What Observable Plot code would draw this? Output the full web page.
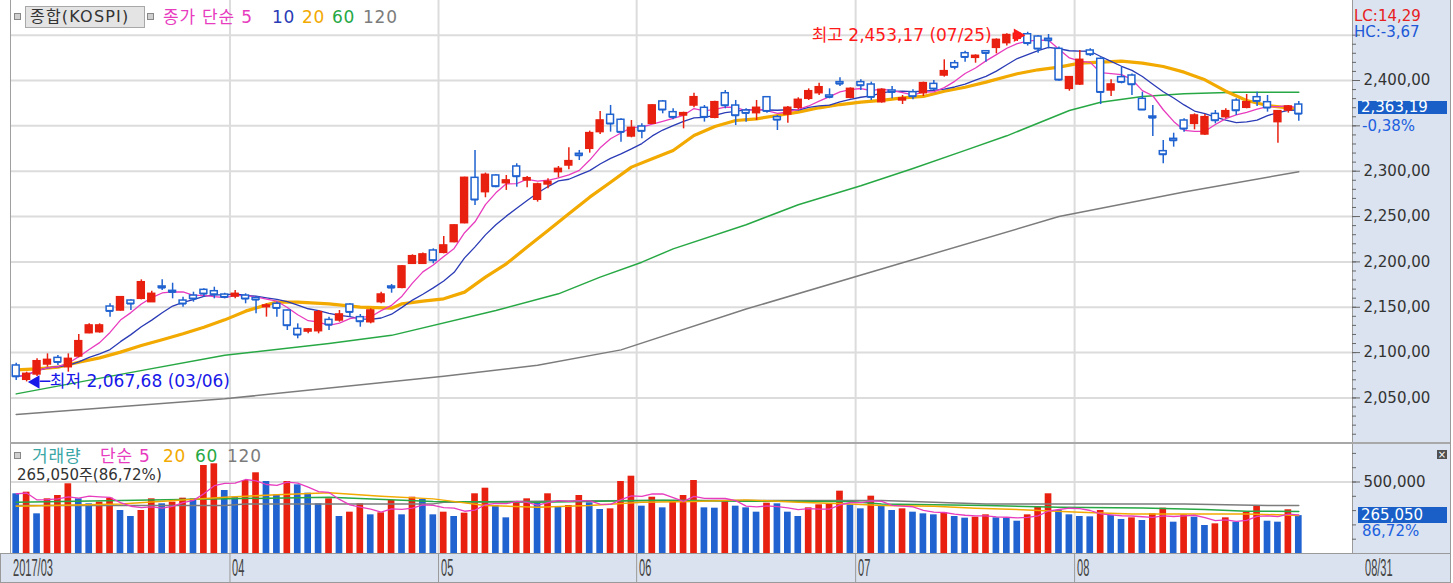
<!DOCTYPE html>
<html><head><meta charset="utf-8">
<script src="https://cdn.jsdelivr.net/npm/d3@7"></script>
<script src="https://cdn.jsdelivr.net/npm/@observablehq/plot@0.6"></script>
<style>
body{margin:0;background:#fff;}
#wrap{position:relative;width:1453px;height:583px;overflow:hidden;font-family:"DejaVu Sans","Noto Sans CJK KR",sans-serif;background:#fff;}
.abs{position:absolute;white-space:nowrap;}
.svgbox{position:absolute;left:0;}
.cond{position:absolute;white-space:nowrap;font-family:"Liberation Sans",sans-serif;font-size:23px;line-height:26px;color:#444;transform:scaleX(0.48);transform-origin:0 0;}
</style></head><body><div id="wrap"></div>
<script>
// ---- data ----
const monthLabels = ["2017/03","04","05","06","07","08"];
const monthStart  = [0,21,41,60,81,102];
const opens  = [2085.8,2070.0,2075.9,2086.9,2094.2,2083.9,2095.7,2121.4,2122.5,2150.8,2146.4,2157.4,2159.3,2155.6,2172.9,2168.1,2157.4,2162.9,2169.2,2167.7,2164.0,2161.8,2162.9,2160.4,2150.1,2153.8,2146.4,2126.2,2123.2,2123.6,2136.1,2135.4,2153.0,2139.1,2133.5,2155.6,2172.9,2171.4,2197.9,2197.9,2212.6,2210.0,2221.8,2242.7,2292.7,2276.9,2295.3,2286.8,2305.2,2289.8,2268.5,2285.4,2299.0,2306.3,2319.2,2324.7,2343.1,2362.2,2356.7,2338.3,2349.3,2352.3,2376.9,2365.1,2361.4,2372.4,2369.9,2358.9,2386.0,2372.4,2366.9,2364.0,2381.6,2359.6,2362.5,2369.9,2379.8,2386.0,2383.5,2398.2,2380.9,2398.2,2395.6,2376.1,2389.0,2378.0,2387.1,2386.0,2396.3,2405.5,2419.1,2430.1,2425.0,2432.3,2436.0,2441.2,2446.0,2451.0,2448.5,2446.0,2434.9,2390.8,2395.6,2433.1,2423.9,2389.0,2403.7,2405.5,2379.8,2360.3,2322.1,2335.7,2355.9,2352.2,2340.5,2363.2,2359.6,2377.9,2369.9,2381.6,2376.1,2354.1,2366.9,2373.5];
const highs  = [2088.3,2078.4,2093.1,2098.6,2096.8,2098.6,2119.9,2131.7,2131.7,2153.8,2161.8,2158.2,2180.2,2167.7,2180.2,2176.5,2161.1,2166.6,2170.3,2172.1,2165.5,2168.5,2164.8,2161.8,2153.8,2155.6,2147.1,2131.7,2126.2,2146.4,2139.1,2146.4,2153.8,2142.0,2148.2,2166.6,2175.1,2196.1,2207.8,2209.7,2214.4,2228.0,2240.9,2293.4,2322.9,2297.9,2296.0,2295.3,2308.2,2294.2,2286.8,2291.6,2305.2,2325.8,2322.9,2344.2,2365.8,2372.5,2357.8,2355.9,2352.3,2373.2,2378.0,2368.8,2365.1,2386.0,2372.4,2377.2,2389.0,2378.0,2368.8,2378.0,2382.4,2361.4,2371.3,2380.9,2390.8,2397.1,2390.8,2402.9,2391.9,2400.7,2398.2,2390.8,2393.4,2383.5,2389.7,2398.2,2400.0,2422.8,2422.0,2432.3,2428.3,2433.1,2445.9,2451.5,2452.5,2453.17,2449.6,2450.7,2436.8,2404.4,2433.1,2434.9,2425.0,2400.7,2414.7,2407.3,2387.1,2372.4,2333.8,2341.9,2357.7,2363.2,2362.5,2366.9,2368.8,2379.8,2384.6,2387.1,2383.5,2366.9,2372.4,2376.8];
const lows   = [2069.2,2067.68,2073.6,2083.9,2085.8,2078.4,2094.2,2120.7,2121.4,2139.1,2145.7,2146.4,2158.2,2155.6,2168.5,2159.3,2150.1,2155.6,2161.1,2159.3,2159.3,2159.3,2153.8,2142.7,2139.1,2139.1,2124.4,2115.2,2120.7,2120.7,2124.4,2133.5,2139.1,2128.0,2131.7,2153.8,2165.5,2170.3,2197.2,2197.2,2197.9,2208.9,2221.0,2242.0,2262.2,2270.7,2281.7,2278.8,2282.4,2281.7,2265.9,2280.6,2292.7,2301.5,2311.8,2319.9,2340.5,2343.1,2332.0,2336.8,2335.7,2352.3,2363.3,2356.7,2346.7,2369.9,2354.1,2357.7,2368.8,2350.4,2354.1,2355.9,2364.0,2344.9,2353.0,2367.7,2378.0,2383.5,2379.8,2393.4,2379.8,2389.0,2378.0,2375.0,2379.8,2373.5,2378.7,2382.4,2389.0,2403.7,2411.8,2420.2,2419.1,2420.2,2429.4,2438.0,2443.0,2438.0,2430.1,2434.9,2399.3,2388.2,2394.5,2426.5,2373.5,2382.4,2396.3,2383.5,2366.9,2338.3,2308.1,2326.5,2343.0,2345.6,2339.4,2352.2,2357.7,2361.4,2368.8,2371.3,2365.1,2330.9,2364.0,2355.2];
const closes = [2073.6,2076.6,2090.5,2092.0,2089.4,2093.1,2112.6,2129.9,2129.9,2145.7,2161.1,2153.8,2177.6,2164.8,2171.4,2166.6,2153.8,2159.3,2164.8,2164.0,2161.1,2164.8,2159.3,2158.2,2151.9,2149.0,2129.9,2119.6,2125.5,2144.6,2130.6,2142.0,2144.6,2134.3,2146.4,2164.0,2171.4,2195.0,2206.3,2208.2,2201.6,2218.1,2240.2,2292.7,2268.5,2296.0,2283.2,2289.8,2294.2,2292.3,2285.4,2288.3,2302.6,2311.1,2317.3,2342.0,2355.9,2352.3,2343.1,2347.8,2344.2,2372.5,2367.7,2359.6,2364.0,2381.6,2359.6,2376.1,2372.4,2361.4,2364.0,2369.9,2366.2,2356.6,2369.9,2378.7,2388.2,2392.6,2381.6,2396.3,2390.8,2394.5,2381.6,2389.7,2387.1,2380.2,2382.4,2397.1,2390.8,2410.3,2414.7,2425.7,2427.2,2430.1,2444.8,2450.1,2451.5,2441.0,2434.9,2444.1,2400.7,2403.7,2422.8,2428.7,2387.1,2395.6,2398.2,2395.6,2367.7,2358.8,2318.4,2333.8,2346.7,2361.4,2359.6,2355.9,2366.2,2366.9,2376.1,2377.2,2369.9,2366.2,2371.3,2363.19];
const volumes = [417500,428800,277400,382300,405600,487400,382300,347400,359000,386900,300700,258700,300700,382300,347400,359000,386900,382300,615400,627100,440600,393700,510500,564300,503500,410500,503500,480400,421700,347400,382300,258700,289000,347400,270400,284400,370600,270400,393700,377600,270400,289000,258700,282000,417500,456700,335700,249400,363600,382300,363600,417500,324000,335700,405600,354300,307700,312300,503500,540600,331000,393700,319300,370600,405600,510500,319300,316900,370600,331000,319300,289000,352000,347400,289000,258700,319300,340400,347400,435900,340400,312300,400900,331000,300700,312300,289000,277400,270400,284400,258700,247100,254000,270400,249400,247100,225900,270400,324000,417500,300700,270400,258700,256400,300700,265800,238100,249400,230600,277400,316900,219000,270400,254000,195800,207400,249400,219000,289000,335700,225900,219000,305640,265050];
// moving averages (index, value)
const ma20Idx = [0,2,4,6,8,10,12,14,16,18,20,22,24,25,27,30,33,36,37,39,41,43,45,47,49,51,53,55,57,59,61,63,65,67,69,71,73,75,77,79,81,83,85,87,89,91,93,95,96,98,100,102,104,106,108,110,112,114,116,118,120,122,123];
const ma20Val = [2081.0,2082.1,2083.9,2089.4,2094.2,2100.5,2107.8,2114.1,2120.7,2128.0,2136.1,2145.7,2152.6,2155.6,2155.6,2153.8,2150.1,2149.0,2153.8,2156.7,2159.3,2166.7,2183.2,2197.9,2216.3,2234.6,2253.0,2271.4,2287.9,2304.5,2313.7,2322.9,2339.4,2349.3,2355.9,2357.7,2361.4,2365.1,2369.9,2373.5,2376.1,2378.0,2380.9,2382.4,2388.2,2392.6,2398.2,2404.4,2407.4,2411.8,2414.7,2419.1,2420.2,2421.3,2419.1,2415.4,2409.2,2400.7,2388.2,2378.0,2372.4,2369.9,2367.7];
const ma60Idx = [0,10,20,30,36,46,52,56,60,63,70,75,81,86,91,95,101,104,108,112,117,123];
const ma60Val = [2054.5,2076.0,2097.0,2110.0,2119.0,2146.5,2164.8,2183.2,2199.7,2214.4,2241.0,2263.0,2284.0,2303.0,2323.0,2339.0,2367.0,2376.0,2382.4,2385.5,2387.1,2387.1];
const ma120Idx = [0,20,41,50,58,70,85,100,112,123];
const ma120Val = [2031.7,2049.0,2074.0,2086.0,2103.0,2148.0,2199.0,2250.0,2277.0,2299.5];
const vma20Idx = [0,10,20,25,30,35,40,45,50,55,60,65,70,75,80,83,88,92,97,102,107,113,118,123];
const vma20Val = [331000,347000,394000,410000,424000,401000,382000,336000,324000,336000,359000,364000,375000,359000,347000,336000,331000,317000,305000,289000,277000,277000,277000,266000];
const vma60Idx = [0,20,30,40,50,62,70,80,83,93,100,108,114,118,123];
const vma60Val = [359000,382000,394000,364000,359000,372000,366000,364000,347000,336000,324000,319000,308000,296000,294000];
const vma120Idx = [0,20,22,40,41,60,83,88,93,112,120,123];
const vma120Val = [336000,336000,347000,347000,359000,371000,371000,359000,347000,347000,336000,336000];
const priceLabelTicks = [2050,2100,2150,2200,2250,2300,2400];
const priceMajor = [2050,2100,2150,2200,2250,2300,2350,2400,2450];
const priceMinor = d3.range(2010,2441,10);
const volMinor = d3.range(0,700001,100000);
const lowMark = {i:1, v:2067.68, text:"─최저 2,067,68 (03/06)"};
const highMark = {i:97, v:2453.17, text:"최고 2,453,17 (07/25)"};

// ---- styling ----
const RED="#e8200f", BLUE="#1f62d0", PINK="#e83cbf", NAVY="#2a3bb5", ORANGE="#f2a900", GREEN="#27a844", GREY="#7c7c7c", GRID="#dcdcdc", TICK="#666";
const W=1453, MR=101, ML=10;
const xDomain=[0,123], xRange=[15.7,1298.3];
const xPix = d3.scaleLinear(xDomain, xRange);           // used only to turn pixel tick lengths into x units
const axX0 = xPix.invert(W-MR), axXmin = xPix.invert(W-MR+4), axXmaj = xPix.invert(W-MR+8);

const candles = closes.map((c,i)=>({i,o:opens[i],h:highs[i],l:lows[i],c,up:c>=opens[i]}));
const vols = volumes.map((v,i)=>({i,v,up: i>0 ? v>volumes[i-1] : false}));
const pairs = (ix,vals)=>ix.map((i,k)=>({i,v:vals[k]}));
const monthSep = monthStart.map(d=>d-0.5);

const wrap = document.getElementById("wrap");
function div(css, text){const d=document.createElement("div");d.className="abs";d.style.cssText=css;if(text!=null)d.textContent=text;wrap.appendChild(d);return d;}

// backgrounds
div("left:1352px;top:0;width:97px;height:553px;background:#dae3ef;border-left:1px solid #9a9a9a;border-right:1px solid #9a9a9a;");
div("left:0;top:553px;width:1449px;height:28px;background:#d9e2ee;border:1px solid #9a9a9a;");

// ---- price pane ----
const price = Plot.plot({
  width:W, height:443, marginLeft:ML, marginRight:MR, marginTop:0, marginBottom:0,
  style:{background:"transparent", fontFamily:"DejaVu Sans", fontSize:"15px", color:"#333"},
  x:{domain:xDomain, range:xRange, axis:null},
  y:{domain:[2050,2400], range:[397.45,80], axis:null},
  color:{type:"identity"},
  marks:[
    Plot.ruleY(priceMajor, {stroke:GRID, strokeWidth:2}),
    Plot.ruleX(monthSep.slice(1), {stroke:GRID, strokeWidth:2}),
    Plot.lineY(pairs(ma120Idx,ma120Val), {x:"i", y:"v", stroke:GREY, strokeWidth:1.5}),
    Plot.lineY(pairs(ma60Idx,ma60Val), {x:"i", y:"v", stroke:GREEN, strokeWidth:1.5}),
    Plot.lineY(pairs(ma20Idx,ma20Val), {x:"i", y:"v", stroke:ORANGE, strokeWidth:3.2}),
    Plot.lineY(candles, Plot.windowY({k:10, anchor:"end", reduce:"mean"}, {x:"i", y:"c", stroke:NAVY, strokeWidth:1.3})),
    Plot.lineY(candles, Plot.windowY({k:5, anchor:"end", reduce:"mean"}, {x:"i", y:"c", stroke:PINK, strokeWidth:1.3})),
    Plot.ruleX(candles, {x:"i", y1:"l", y2:"h", stroke:d=>d.up?RED:BLUE, strokeWidth:1.5}),
    Plot.rect(candles, {x1:d=>d.i-0.33, x2:d=>d.i+0.33, y1:"o", y2:"c", fill:d=>d.up?RED:"white", stroke:d=>d.up?RED:BLUE, strokeWidth:1.5}),
    Plot.ruleY(candles, {x1:d=>d.i-0.33, x2:d=>d.i+0.33, y:"c", stroke:d=>d.up?RED:BLUE, strokeWidth:1.5}),
    // right axis: tick marks and labels
    Plot.ruleY(priceMinor, {x1:axX0, x2:axXmin, stroke:TICK}),
    Plot.ruleY(priceMajor, {x1:axX0, x2:axXmaj, stroke:TICK}),
    Plot.axisY({anchor:"right", label:null, ticks:priceLabelTicks, tickSize:0, tickPadding:11, tickFormat:v=>d3.format(",")(v)+",00", fontSize:15, fontFamily:"DejaVu Sans"}),
    // annotations
    Plot.dot([lowMark], {x:"i", y:"v", symbol:"triangle", rotate:-90, r:5, fill:"#1818e8", stroke:null, dx:9}),
    Plot.text([lowMark], {x:"i", y:"v", text:"text", textAnchor:"start", dx:13, fill:"#1818e8", fontSize:17, fontFamily:"DejaVu Sans, Noto Sans CJK KR"}),
    Plot.dot([highMark], {x:"i", y:"v", symbol:"triangle", rotate:90, r:5, fill:"#ff1a1a", stroke:null, dx:-10, dy:3}),
    Plot.text([highMark], {x:"i", y:"v", text:"text", textAnchor:"end", dx:-36, dy:3, fill:"#ff1a1a", fontSize:17, fontFamily:"DejaVu Sans, Noto Sans CJK KR"})
  ]
});
price.classList.add("svgbox"); price.style.top="0px"; wrap.appendChild(price);

// ---- volume pane ----
const vol = Plot.plot({
  width:W, height:110, marginLeft:ML, marginRight:MR, marginTop:0, marginBottom:0,
  style:{background:"transparent", fontFamily:"DejaVu Sans", fontSize:"15px", color:"#333"},
  x:{domain:xDomain, range:xRange, axis:null},
  y:{domain:[0,500000], range:[110,38.5], axis:null},
  color:{type:"identity"},
  marks:[
    Plot.ruleY([500000], {stroke:GRID, strokeWidth:2}),
    Plot.ruleX(monthSep.slice(1), {stroke:GRID, strokeWidth:2}),
    Plot.rect(vols, {x1:d=>d.i-0.32, x2:d=>d.i+0.32, y1:0, y2:"v", fill:d=>d.up?RED:BLUE}),
    Plot.lineY(pairs(vma120Idx,vma120Val), {x:"i", y:"v", stroke:GREY, strokeWidth:1.5}),
    Plot.lineY(pairs(vma60Idx,vma60Val), {x:"i", y:"v", stroke:GREEN, strokeWidth:1.5}),
    Plot.lineY(pairs(vma20Idx,vma20Val), {x:"i", y:"v", stroke:ORANGE, strokeWidth:1.5}),
    Plot.lineY(vols, Plot.windowY({k:5, anchor:"end", reduce:"mean"}, {x:"i", y:"v", stroke:PINK, strokeWidth:1.3})),
    Plot.ruleY(volMinor, {x1:axX0, x2:axXmin, stroke:TICK}),
    Plot.ruleY([500000], {x1:axX0, x2:axXmaj, stroke:TICK}),
    Plot.axisY({anchor:"right", label:null, ticks:[500000], tickSize:0, tickPadding:11, tickFormat:d3.format(","), fontSize:15, fontFamily:"DejaVu Sans"})
  ]
});
vol.classList.add("svgbox"); vol.style.top="443px"; wrap.appendChild(vol);

// ---- time strip ----
const strip = Plot.plot({
  width:W, height:30, marginLeft:ML, marginRight:MR, marginTop:0, marginBottom:0,
  style:{background:"transparent"},
  x:{domain:xDomain, range:xRange, axis:null},
  marks:[ Plot.ruleX(monthSep.slice(1), {stroke:"#9a9a9a", strokeWidth:1}) ]
});
strip.classList.add("svgbox"); strip.style.top="553px"; wrap.appendChild(strip);
const xs = price.scale("x"), ys = price.scale("y"), vy = vol.scale("y");
monthLabels.forEach((t,k)=>{
  const d=document.createElement("div"); d.className="cond";
  d.style.left=(Math.max(xs.apply(monthSep[k]),10)+3)+"px"; d.style.top="555px"; d.textContent=t; wrap.appendChild(d);
});
{const d=document.createElement("div"); d.className="cond"; d.style.left="1365px"; d.style.top="555px"; d.textContent="08/31"; wrap.appendChild(d);}

// frame lines
div("left:10px;top:0;width:1px;height:553px;background:#a0a0a0;");
div("left:10px;top:442px;width:1440px;height:2px;background:#a8a8a8;");

// ---- legends ----
const lg = "font-size:17px;top:5px;line-height:24px;letter-spacing:0.8px;";
div("left:14px;top:13px;width:5px;height:5px;border:1px solid #888;background:#cfcfcf;");
div("left:25px;top:6px;width:114px;height:20px;background:#e4e4e4;border:1px solid #a8a8a8;color:#333;font-size:16px;line-height:20px;padding-left:4px;letter-spacing:1.2px;", "종합(KOSPI)");
div("left:147px;top:13px;width:5px;height:5px;border:1px solid #888;background:#cfcfcf;");
div(lg+"left:163px;color:"+PINK, "종가 단순 5");
div(lg+"left:272px;color:"+NAVY, "10");
div(lg+"left:302px;color:"+ORANGE, "20");
div(lg+"left:332px;color:"+GREEN, "60");
div(lg+"left:363px;color:"+GREY, "120");

const vl = "font-size:17px;top:444px;line-height:24px;letter-spacing:0.8px;";
div("left:14px;top:452px;width:5px;height:5px;border:1px solid #888;background:#cfcfcf;");
div(vl+"left:32px;color:#3aa6a6", "거래량");
div(vl+"left:100px;color:"+PINK, "단순 5");
div(vl+"left:163px;color:"+ORANGE, "20");
div(vl+"left:195px;color:"+GREEN, "60");
div(vl+"left:227px;color:"+GREY, "120");
div("left:17px;top:465px;font-size:15px;line-height:20px;color:#333;", d3.format(",")(volumes[volumes.length-1])+"주("+(volumes[123]/volumes[122]*100).toFixed(2).replace(".",",")+"%)");

// ---- right panel labels ----
div("left:1354px;top:7px;font-size:15px;line-height:18px;color:#e82020;", "LC:14,29");
div("left:1354px;top:23px;font-size:15px;line-height:18px;color:#2058d8;", "HC:-3,67");
const lastC = closes[closes.length-1];
const yLast = ys.apply(lastC);
div(`left:1358px;top:${yLast-12}px;width:86px;height:13px;background:#1a5fc8;color:#fff;font-size:15px;line-height:13px;padding-left:3px;`, d3.format(",.2f")(lastC).replace(/\.(\d\d)$/, ",$1"));
div(`left:1362px;top:${yLast+5}px;font-size:15px;line-height:16px;color:#2060e0;`, "-0,38%");
const yVol = vy.apply(volumes[123]) + 443;
div(`left:1358px;top:${yVol-8}px;width:86px;height:16px;background:#1a5fc8;color:#fff;font-size:15px;line-height:16px;padding-left:3px;`, d3.format(",")(volumes[123]));
div(`left:1362px;top:${yVol+8}px;font-size:15px;line-height:16px;color:#2060e0;`, "86,72%");
div("left:1437px;top:450px;width:10px;height:9px;background:#505050;color:#fff;font-size:10px;line-height:9px;text-align:center;font-family:'DejaVu Sans';", "×");
</script></body></html>
